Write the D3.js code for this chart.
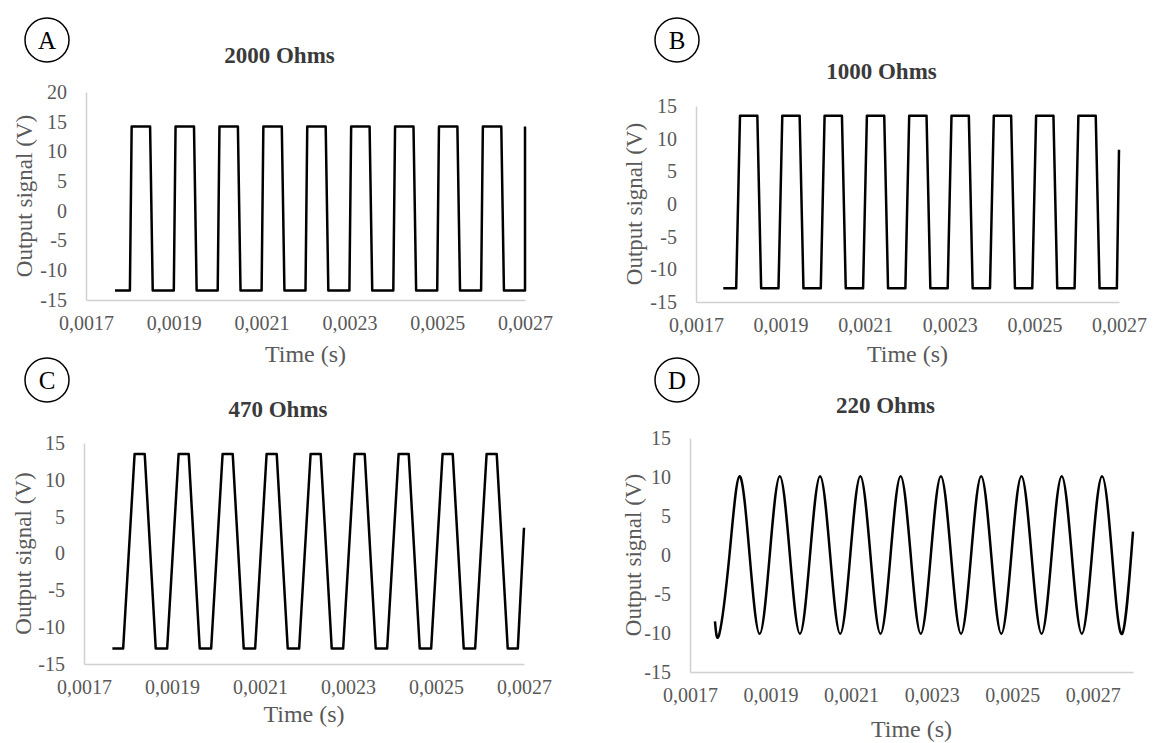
<!DOCTYPE html>
<html>
<head>
<meta charset="utf-8">
<script src="https://d3js.org/d3.v7.min.js"></script>
<style>
  body { margin: 0; background: #fff; }
  svg { display: block; font-family: "Liberation Serif", "Times New Roman", serif; }
</style>
</head>
<body>
<script>
// A - 2000 Ohms (square wave)
const timeA = [0.001766, 0.001800, 0.001804, 0.001846, 0.001852,
    0.001900, 0.001904, 0.001946, 0.001952,
    0.002000, 0.002004, 0.002046, 0.002052,
    0.002100, 0.002104, 0.002146, 0.002152,
    0.002200, 0.002204, 0.002246, 0.002252,
    0.002300, 0.002304, 0.002346, 0.002352,
    0.002400, 0.002404, 0.002446, 0.002452,
    0.002500, 0.002504, 0.002546, 0.002552,
    0.002600, 0.002604, 0.002646, 0.002652,
    0.002700, 0.002700];
const voltA = [-13.4, -13.4, 14.2, 14.2, -13.4,
    -13.4, 14.2, 14.2, -13.4,
    -13.4, 14.2, 14.2, -13.4,
    -13.4, 14.2, 14.2, -13.4,
    -13.4, 14.2, 14.2, -13.4,
    -13.4, 14.2, 14.2, -13.4,
    -13.4, 14.2, 14.2, -13.4,
    -13.4, 14.2, 14.2, -13.4,
    -13.4, 14.2, 14.2, -13.4,
    -13.4, 14.2];

// B - 1000 Ohms
const timeB = [0.0017645, 0.001795, 0.001804, 0.001845, 0.001854,
    0.001895, 0.001904, 0.001945, 0.001954,
    0.001995, 0.002004, 0.002045, 0.002054,
    0.002095, 0.002104, 0.002145, 0.002154,
    0.002195, 0.002204, 0.002245, 0.002254,
    0.002295, 0.002304, 0.002345, 0.002354,
    0.002395, 0.002404, 0.002445, 0.002454,
    0.002495, 0.002504, 0.002545, 0.002554,
    0.002595, 0.002604, 0.002645, 0.002654,
    0.002695, 0.002700];
const voltB = [-12.9, -12.9, 13.5, 13.5, -12.9,
    -12.9, 13.5, 13.5, -12.9,
    -12.9, 13.5, 13.5, -12.9,
    -12.9, 13.5, 13.5, -12.9,
    -12.9, 13.5, 13.5, -12.9,
    -12.9, 13.5, 13.5, -12.9,
    -12.9, 13.5, 13.5, -12.9,
    -12.9, 13.5, 13.5, -12.9,
    -12.9, 13.5, 13.5, -12.9,
    -12.9, 8.3];

// C - 470 Ohms (trapezoid)
const timeC = [0.0017645, 0.001789, 0.001815, 0.001838, 0.001863,
    0.001889, 0.001915, 0.001938, 0.001963,
    0.001989, 0.002015, 0.002038, 0.002063,
    0.002089, 0.002115, 0.002138, 0.002163,
    0.002189, 0.002215, 0.002238, 0.002263,
    0.002289, 0.002315, 0.002338, 0.002363,
    0.002389, 0.002415, 0.002438, 0.002463,
    0.002489, 0.002515, 0.002538, 0.002563,
    0.002589, 0.002615, 0.002638, 0.002663,
    0.002686, 0.002700];
const voltC = [-12.9, -12.9, 13.5, 13.5, -12.9,
    -12.9, 13.5, 13.5, -12.9,
    -12.9, 13.5, 13.5, -12.9,
    -12.9, 13.5, 13.5, -12.9,
    -12.9, 13.5, 13.5, -12.9,
    -12.9, 13.5, 13.5, -12.9,
    -12.9, 13.5, 13.5, -12.9,
    -12.9, 13.5, 13.5, -12.9,
    -12.9, 13.5, 13.5, -12.9,
    -12.9, 3.5];

// D - 220 Ohms (sine-like): troughs, zero crossings, peaks
const timeD = [0.001762, 0.001773,
    0.001798, 0.001823, 0.001848, 0.001873,
    0.001898, 0.001923, 0.001948, 0.001973,
    0.001998, 0.002023, 0.002048, 0.002073,
    0.002098, 0.002123, 0.002148, 0.002173,
    0.002198, 0.002223, 0.002248, 0.002273,
    0.002298, 0.002323, 0.002348, 0.002373,
    0.002398, 0.002423, 0.002448, 0.002473,
    0.002498, 0.002523, 0.002548, 0.002573,
    0.002598, 0.002623, 0.002648, 0.002673,
    0.002698, 0.002723, 0.002748, 0.002773,
    0.002800];
const voltD = [-8.5, -10.1,
    0, 10.1, 0, -10.1,
    0, 10.1, 0, -10.1,
    0, 10.1, 0, -10.1,
    0, 10.1, 0, -10.1,
    0, 10.1, 0, -10.1,
    0, 10.1, 0, -10.1,
    0, 10.1, 0, -10.1,
    0, 10.1, 0, -10.1,
    0, 10.1, 0, -10.1,
    0, 10.1, 0, -10.1,
    3.0];

const yTicksA = [-15, -10, -5, 0, 5, 10, 15, 20];
const yTicks = [-15, -10, -5, 0, 5, 10, 15];
const xTicks = [0.0017, 0.0019, 0.0021, 0.0023, 0.0025, 0.0027];

const letters = ["A", "B", "C", "D"];
const titles = ["2000 Ohms", "1000 Ohms", "470 Ohms", "220 Ohms"];

const width = 1153;
const height = 743;

const panels = [
    { time: timeA, volt: voltA, yt: yTicksA, xMax: 0.0027, curve: d3.curveLinear,
      left: 86, right: 525, top: 92, bottom: 300, cx: 47, cy: 40, titleY: 63, timeY: 362, ylabX: 24 },
    { time: timeB, volt: voltB, yt: yTicks, xMax: 0.0027, curve: d3.curveLinear,
      left: 696, right: 1119, top: 106, bottom: 302, cx: 677, cy: 40, titleY: 79, timeY: 362, ylabX: 634 },
    { time: timeC, volt: voltC, yt: yTicks, xMax: 0.0027, curve: d3.curveLinear,
      left: 84, right: 524, top: 443, bottom: 664, cx: 47, cy: 380, titleY: 417, timeY: 722, ylabX: 23 },
    { time: timeD, volt: voltD, yt: yTicks, xMax: 0.0028, curve: d3.curveNatural,
      left: 690, right: 1133, top: 438, bottom: 672, cx: 677, cy: 380, titleY: 413, timeY: 737, ylabX: 633 }
];

const svg = d3.select("body")
    .append("svg")
    .attr("width", width)
    .attr("height", height);

panels.forEach((p, i) => {
    const x = d3.scaleLinear().domain([0.0017, p.xMax]).range([p.left, p.right]);
    const y = d3.scaleLinear().domain(d3.extent(p.yt)).range([p.bottom, p.top]);

    const xAxis = d3.axisBottom(x)
        .tickValues(xTicks)
        .tickSize(0)
        .tickPadding(16)
        .tickFormat(d => d.toFixed(4).replace(".", ","));

    const yAxis = d3.axisLeft(y)
        .tickValues(p.yt)
        .tickSize(0)
        .tickPadding(19)
        .tickFormat(d => d);

    const gx = svg.append("g")
        .attr("transform", `translate(0, ${p.bottom})`)
        .call(xAxis);

    const gy = svg.append("g")
        .attr("transform", `translate(${p.left}, 0)`)
        .call(yAxis);

    [gx, gy].forEach(g => {
        g.attr("font-family", null).attr("font-size", null);
        g.select(".domain").attr("stroke", "#d0d0d0").attr("stroke-width", 1.5);
        g.selectAll("text")
            .style("font-size", "20px")
            .attr("fill", "#595959");
    });

    const line = d3.line()
        .x((d, j) => x(p.time[j]))
        .y(d => y(d))
        .curve(p.curve);

    svg.append("path")
        .datum(p.volt)
        .attr("d", line)
        .attr("fill", "none")
        .attr("stroke", "#000")
        .attr("stroke-width", 2.5)
        .attr("stroke-linejoin", "round");

    svg.append("text")
        .attr("x", (p.left + p.right) / 2 - 26)
        .attr("y", p.titleY)
        .attr("text-anchor", "middle")
        .style("font-size", "23px")
        .style("font-weight", "bold")
        .attr("fill", "#3a3a3a")
        .text(titles[i]);

    svg.append("text")
        .attr("x", (p.left + p.right) / 2)
        .attr("y", p.timeY)
        .attr("text-anchor", "middle")
        .style("font-size", "24px")
        .attr("fill", "#595959")
        .text("Time (s)");

    svg.append("text")
        .attr("transform", `translate(${p.ylabX}, ${(p.top + p.bottom) / 2}) rotate(-90)`)
        .attr("dy", "0.35em")
        .attr("text-anchor", "middle")
        .style("font-size", "23px")
        .attr("fill", "#595959")
        .text("Output signal (V)");

    svg.append("circle")
        .attr("cx", p.cx)
        .attr("cy", p.cy)
        .attr("r", 22)
        .attr("fill", "none")
        .attr("stroke", "#000")
        .attr("stroke-width", 1.5);

    svg.append("text")
        .attr("x", p.cx)
        .attr("y", p.cy)
        .attr("dy", "0.35em")
        .attr("text-anchor", "middle")
        .style("font-size", "25px")
        .attr("fill", "#000")
        .text(letters[i]);
});
</script>
</body>
</html>
